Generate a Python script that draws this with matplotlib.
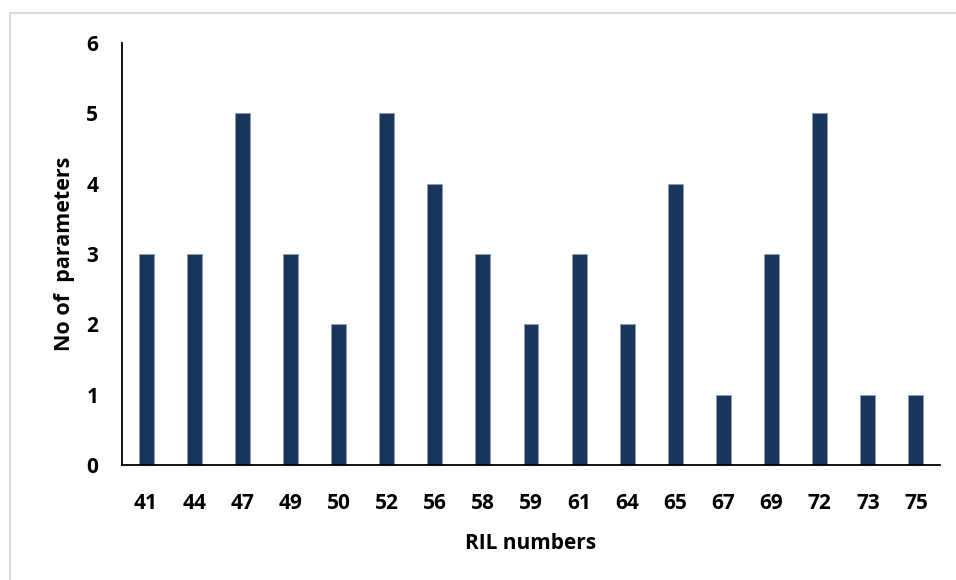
import matplotlib
matplotlib.use("Agg")
import matplotlib.pyplot as plt
from matplotlib.patches import Rectangle

# RIL lines and the number of parameters for each
ril_numbers = ["41", "44", "47", "49", "50", "52", "56", "58", "59",
               "61", "64", "65", "67", "69", "72", "73", "75"]
param_counts = [3, 3, 5, 3, 2, 5, 4, 3, 2, 3, 2, 4, 1, 3, 5, 1, 1]
y_ticks = [0, 1, 2, 3, 4, 5, 6]

plt.rcParams["font.family"] = ["Open Sans", "DejaVu Sans"]

fig = plt.figure(figsize=(9.56, 5.8), dpi=100)
# light frame around the chart area
fig.patches.append(Rectangle((10 / 956, -10 / 580), 980 / 956, 577 / 580,
                             transform=fig.transFigure, fill=False,
                             edgecolor="#d9d9d9", linewidth=1.5))

ax = fig.add_axes([122 / 956, 1 - 465 / 580, 818 / 956, 422 / 580])
x = range(len(ril_numbers))
ax.bar(x, param_counts, width=0.31, color="#1B365D",
       edgecolor="#8a9bb5", linewidth=0.5)

ax.set_xlim(-0.5, len(ril_numbers) - 0.5)
ax.set_ylim(0, 6)
ax.set_yticks(y_ticks)
ax.set_xticks(list(x))
ax.set_xticklabels(ril_numbers)

for s in ("top", "right"):
    ax.spines[s].set_visible(False)
for s in ("left", "bottom"):
    ax.spines[s].set_color("black")
    ax.spines[s].set_linewidth(1.3)

ax.tick_params(axis="both", length=0, labelsize=15)
ax.tick_params(axis="x", pad=20)
ax.tick_params(axis="y", pad=17)
for lbl in ax.get_xticklabels() + ax.get_yticklabels():
    lbl.set_fontweight("bold")

ax.set_xlabel("RIL numbers", fontsize=15, fontweight="bold", labelpad=14)
ax.set_ylabel("No of  parameters", fontsize=15.5, fontweight="bold", labelpad=8)

fig.savefig("out.png", dpi=100)
